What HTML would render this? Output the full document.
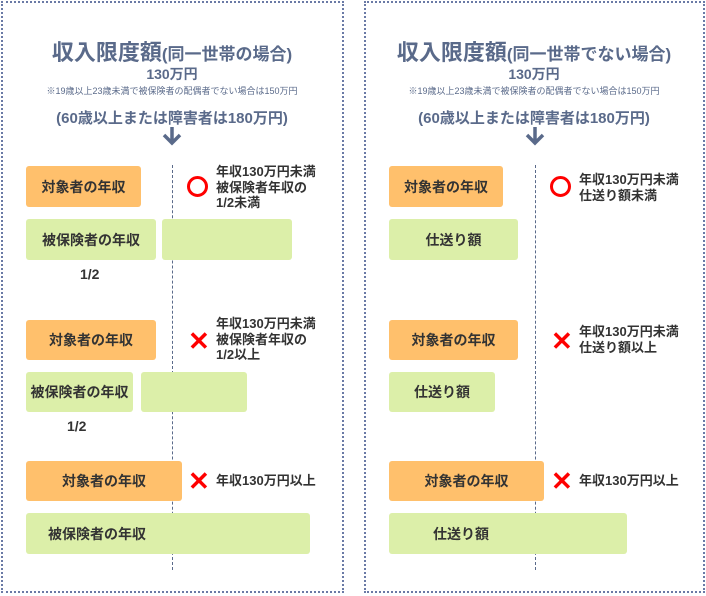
<!DOCTYPE html>
<html><head><meta charset="utf-8"><style>
body{margin:0;width:706px;height:596px;background:#fff;position:relative;overflow:hidden;font-family:"Liberation Sans","Noto Sans CJK JP",sans-serif;}
.p{position:absolute;border:2.5px dotted #6a7aa6;box-sizing:border-box;}
.a{position:absolute;}
.o{position:absolute;background:#ffc06c;border-radius:3px;font-size:14px;font-weight:bold;color:#333;display:flex;align-items:center;justify-content:center;}
.g{position:absolute;background:#dcefa9;border-radius:3px;font-size:14px;font-weight:bold;color:#333;display:flex;align-items:center;justify-content:center;}
.d{position:absolute;border-left:1.5px dashed #5a6a8a;width:0;}
.t{position:absolute;font-size:13px;line-height:15.5px;color:#333;font-weight:bold;}
.c{position:absolute;width:15px;height:15px;border:3px solid #f00;border-radius:50%;}
.x{position:absolute;color:#f00;font-size:26px;font-weight:bold;line-height:26px;}
.ti{position:absolute;width:340px;text-align:center;color:#5a6a8a;font-weight:bold;}
</style></head><body>
<div class="p" style="left:1px;top:1px;width:343px;height:592px"></div>
<div class="p" style="left:364px;top:1px;width:341px;height:592px"></div>

<!-- left -->
<div class="ti" style="left:2px;top:35px;font-size:22px">収入限度額<span style="font-size:17px">(同一世帯の場合)</span></div>
<div class="ti" style="left:2px;top:64px;font-size:14px">130万円</div>
<div class="ti" style="left:2px;top:84px;font-size:9px;font-weight:normal">※19歳以上23歳未満で被保険者の配偶者でない場合は150万円</div>
<div class="ti" style="left:2px;top:107px;font-size:15px">(60歳以上または障害者は180万円)</div>
<svg class="a" style="left:160px;top:126px" width="24" height="20"><path d="M12 1V17M4 9L12 17L20 9" stroke="#5a6a8a" stroke-width="3.5" fill="none"/></svg>
<div class="d" style="left:172px;top:165px;height:405px"></div>
<div class="o" style="left:26px;top:166px;width:115px;height:41px">対象者の年収</div>
<div class="g" style="left:26px;top:219px;width:130px;height:41px">被保険者の年収</div>
<div class="g" style="left:162px;top:219px;width:130px;height:41px"></div>
<div class="t" style="left:80px;top:267px;font-size:14px">1/2</div>
<div class="c" style="left:187px;top:176px"></div>
<div class="t" style="left:216px;top:164px">年収130万円未満<br>被保険者年収の<br>1/2未満</div>
<div class="o" style="left:26px;top:320px;width:130px;height:40px">対象者の年収</div>
<div class="g" style="left:26px;top:372px;width:107px;height:40px">被保険者の年収</div>
<div class="g" style="left:141px;top:372px;width:106px;height:40px"></div>
<div class="t" style="left:67px;top:419px;font-size:14px">1/2</div>
<div class="x" style="left:188px;top:328px">✕</div>
<div class="t" style="left:216px;top:316px">年収130万円未満<br>被保険者年収の<br>1/2以上</div>
<div class="o" style="left:26px;top:461px;width:156px;height:40px">対象者の年収</div>
<div class="g" style="left:26px;top:513px;width:284px;height:41px;justify-content:flex-start;padding-left:22px;box-sizing:border-box">被保険者の年収</div>
<div class="x" style="left:188px;top:468px">✕</div>
<div class="t" style="left:216px;top:473px">年収130万円以上</div>

<!-- right -->
<div class="ti" style="left:364px;top:35px;font-size:22px">収入限度額<span style="font-size:17px">(同一世帯でない場合)</span></div>
<div class="ti" style="left:364px;top:64px;font-size:14px">130万円</div>
<div class="ti" style="left:364px;top:84px;font-size:9px;font-weight:normal">※19歳以上23歳未満で被保険者の配偶者でない場合は150万円</div>
<div class="ti" style="left:364px;top:107px;font-size:15px">(60歳以上または障害者は180万円)</div>
<svg class="a" style="left:523px;top:126px" width="24" height="20"><path d="M12 1V17M4 9L12 17L20 9" stroke="#5a6a8a" stroke-width="3.5" fill="none"/></svg>
<div class="d" style="left:535px;top:165px;height:405px"></div>
<div class="o" style="left:389px;top:166px;width:114px;height:41px">対象者の年収</div>
<div class="g" style="left:389px;top:219px;width:129px;height:41px">仕送り額</div>
<div class="c" style="left:550px;top:176px"></div>
<div class="t" style="left:579px;top:172px">年収130万円未満<br>仕送り額未満</div>
<div class="o" style="left:389px;top:320px;width:129px;height:40px">対象者の年収</div>
<div class="g" style="left:389px;top:372px;width:106px;height:40px">仕送り額</div>
<div class="x" style="left:551px;top:328px">✕</div>
<div class="t" style="left:579px;top:324px">年収130万円未満<br>仕送り額以上</div>
<div class="o" style="left:389px;top:461px;width:155px;height:40px">対象者の年収</div>
<div class="g" style="left:389px;top:513px;width:238px;height:41px;justify-content:flex-start;padding-left:44px;box-sizing:border-box">仕送り額</div>
<div class="x" style="left:551px;top:468px">✕</div>
<div class="t" style="left:579px;top:473px">年収130万円以上</div>
</body></html>
